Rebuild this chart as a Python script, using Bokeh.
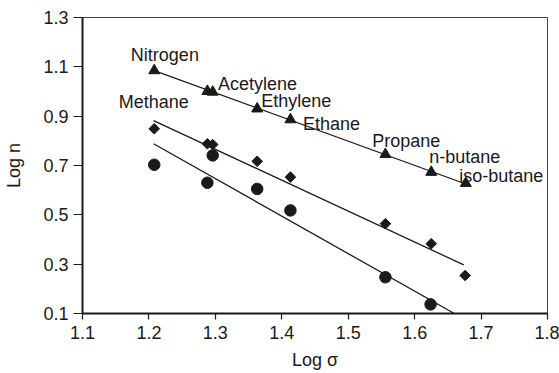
from bokeh.plotting import figure
from bokeh.models import Range1d, FixedTicker
from bokeh.core.properties import value
from bokeh.embed import file_html
from bokeh.resources import INLINE
import numpy as np

# Data
tri_x = [1.208, 1.288, 1.296, 1.363, 1.413, 1.556, 1.625, 1.677]
tri_y = [1.085, 1.001, 0.998, 0.930, 0.886, 0.745, 0.673, 0.628]

dia_x = [1.208, 1.288, 1.296, 1.363, 1.413, 1.556, 1.625, 1.676]
dia_y = [0.849, 0.788, 0.785, 0.717, 0.653, 0.464, 0.383, 0.254]

cir_x = [1.208, 1.288, 1.296, 1.363, 1.413, 1.556, 1.624]
cir_y = [0.703, 0.630, 0.741, 0.605, 0.518, 0.247, 0.137]

# fitted lines (endpoints)
tri_fit_x = [1.208, 1.677]
tri_fit_y = [1.085, 0.625]
dia_fit_x = [1.207, 1.674]
dia_fit_y = [0.882, 0.297]
cir_fit_x = [1.207, 1.659]
cir_fit_y = [0.788, 0.101]

labels = ["Nitrogen", "Methane", "Acetylene", "Ethylene", "Ethane", "Propane", "n-butane", "iso-butane"]
label_x = [1.224, 1.260, 1.304, 1.369, 1.432, 1.536, 1.622, 1.667]
label_y = [1.146, 0.957, 1.031, 0.961, 0.869, 0.801, 0.734, 0.659]
label_align = ["center", "right", "left", "left", "left", "left", "left", "left"]

x_ticks = [1.1, 1.2, 1.3, 1.4, 1.5, 1.6, 1.7, 1.8]
y_ticks = [0.1, 0.3, 0.5, 0.7, 0.9, 1.1, 1.3]

FONT = "Liberation Sans"
FS = "18px"

p = figure(width=559, height=373, output_backend="svg", toolbar_location=None,
           x_range=Range1d(1.1, 1.8), y_range=Range1d(0.1, 1.3),
           min_border_left=82, min_border_right=12, min_border_top=17, min_border_bottom=60)

p.xgrid.visible = False
p.ygrid.visible = False
p.outline_line_color = "#444444"
p.outline_line_width = 1
p.background_fill_color = "white"
p.border_fill_color = "white"

for ax in (p.xaxis[0], p.yaxis[0]):
    ax.axis_line_color = "#1a1a1a"
    ax.axis_line_width = 2
    ax.major_tick_line_color = "#1a1a1a"
    ax.major_tick_line_width = 1.2
    ax.major_tick_in = 0
    ax.minor_tick_line_color = None
    ax.major_label_text_font = FONT
    ax.major_label_text_font_size = FS
    ax.major_label_text_color = "#1a1a1a"
    ax.axis_label_text_font = FONT
    ax.axis_label_text_font_size = FS
    ax.axis_label_text_font_style = "normal"
    ax.axis_label_text_color = "#1a1a1a"

p.xaxis.ticker = FixedTicker(ticks=x_ticks)
p.yaxis.ticker = FixedTicker(ticks=y_ticks)
p.xaxis.major_label_overrides = {t: f"{t:.1f}" for t in x_ticks}
p.yaxis.major_label_overrides = {t: f"{t:.1f}" for t in y_ticks}
p.xaxis.major_tick_out = 6
p.yaxis.major_tick_out = 9
p.xaxis.major_label_standoff = 6
p.yaxis.major_label_standoff = 5
p.xaxis.axis_label = "Log σ"
p.yaxis.axis_label = "Log n"
p.xaxis.axis_label_standoff = 8
p.yaxis.axis_label_standoff = 16

# fit lines
for fx, fy in ((tri_fit_x, tri_fit_y), (dia_fit_x, dia_fit_y), (cir_fit_x, cir_fit_y)):
    p.line(fx, fy, line_color="#1a1a1a", line_width=1.3)

# markers
p.scatter(tri_x, tri_y, marker="triangle", size=11, fill_color="#1a1a1a", line_color="#1a1a1a")
p.scatter(dia_x, dia_y, marker="square", angle=np.pi / 4, size=7.5, fill_color="#1a1a1a", line_color="#1a1a1a")
p.scatter(cir_x, cir_y, marker="circle", size=11.5, fill_color="#1a1a1a", line_color="#1a1a1a")

# labels
p.text(x=label_x, y=label_y, text=labels, text_align=label_align, text_baseline="alphabetic",
       text_font=value(FONT), text_font_size=FS, text_color="#1a1a1a")

open("out.html", "w").write(file_html(p, INLINE))
